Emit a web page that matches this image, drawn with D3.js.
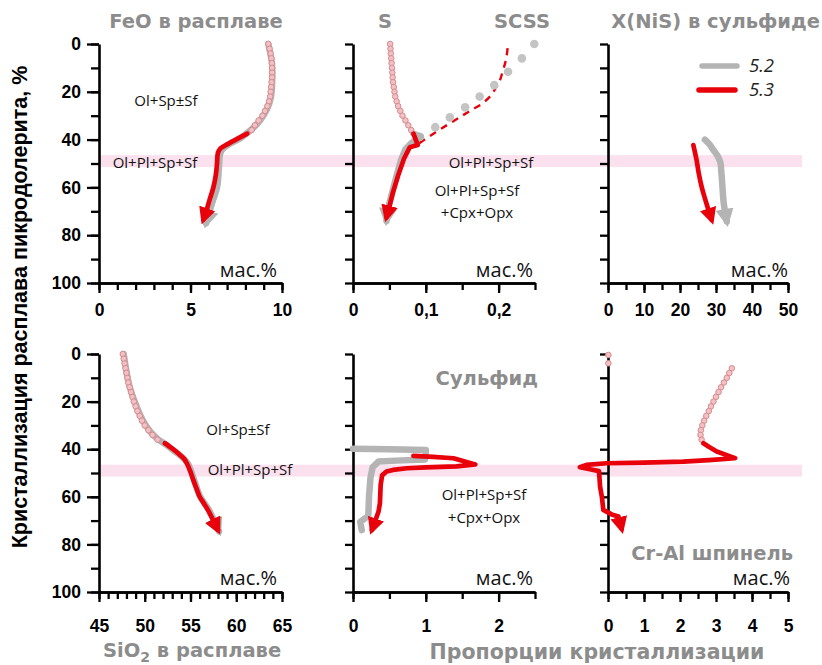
<!DOCTYPE html>
<html><head><meta charset="utf-8">
<script src="https://cdn.jsdelivr.net/npm/d3@7"></script>
<style>body{margin:0;background:#fff}svg{display:block}</style>
</head><body>
<svg id="c" width="822" height="665"></svg>
<script>
// ---------- DATA ----------
const yTickLabels = [0, 20, 40, 60, 80, 100];
const bandRange = [46.5, 51.5];
const legendLabels = ["5.2", "5.3"];

// FeO in melt (top-left)
const feoCircles = [[9.25,0],[9.32,2],[9.38,4],[9.42,6],[9.45,8],[9.46,10],[9.46,12],[9.45,14],[9.43,16],[9.41,18],[9.38,20],[9.35,22],[9.29,24],[9.2,26],[9.07,28],[8.93,30],[8.72,32],[8.52,34],[8.34,36]];
const feoGray = [[9.25,0],[9.45,8],[9.47,14],[9.4,22],[9.2,27],[8.8,32],[8.3,36],[7.7,39.5],[7.1,42],[6.75,44],[6.62,46],[6.55,52],[6.45,60],[6.2,66],[5.85,75]];
const feoRed = [[8.1,37.5],[7.6,39.5],[7.0,42],[6.65,43.6],[6.5,45.5],[6.45,50],[6.38,55],[6.25,60],[6.05,65],[5.9,69],[5.7,73.5]];

// S and SCSS (top-middle)
const sCircles = [[0.051,0],[0.0515,2],[0.052,4],[0.0525,6],[0.053,8],[0.0535,10],[0.054,12],[0.0545,14],[0.055,16],[0.056,18],[0.057,20],[0.058,22],[0.06,24],[0.062,26],[0.065,28],[0.068,30],[0.072,32],[0.076,34],[0.08,36]];
const sGray = [[0.083,37.5],[0.093,38.8],[0.08,41.5],[0.072,44],[0.066,48.5],[0.06,55],[0.054,62],[0.048,69],[0.046,74]];
const sRed = [[0.083,37.5],[0.089,42.3],[0.078,43.2],[0.07,48],[0.062,55],[0.055,62],[0.05,68],[0.046,72.5]];
const scssRed = [[0.091,41.5],[0.113,37],[0.133,33.2],[0.15,30],[0.163,27.6],[0.177,25],[0.188,22],[0.196,18.5],[0.202,15],[0.206,11],[0.209,8],[0.211,5],[0.213,0]];
const scssGray = [[0.092,38.8],[0.113,34.8],[0.133,30.7],[0.154,26.5],[0.174,22],[0.194,17.2],[0.213,11.6],[0.232,6],[0.249,0]];

// X(NiS) in sulfide (top-right)
const nisGray = [[26.9,40],[28.2,42],[29.3,44.4],[30.5,47],[31.2,49.5],[31.5,54],[31.8,60],[32.1,66],[32.5,70],[33,74.3]];
const nisRed = [[23.7,42.3],[24.1,45],[24.6,48.5],[25.2,54],[26,59.7],[26.8,64],[27.6,68],[28.8,73.6]];

// SiO2 in melt (bottom-left)
const sioCircles = [[47.6,0],[47.7,2],[47.8,4],[47.9,6],[48.0,8],[48.1,10],[48.2,12],[48.35,14],[48.5,16],[48.65,18],[48.8,20],[49.0,22],[49.2,24],[49.45,26],[49.7,28],[50.0,30],[50.4,32],[50.85,34],[51.4,36]];
const sioGray = [[47.7,0],[48.3,13],[49.0,21],[49.8,28],[50.6,32.6],[51.5,36],[52.3,38],[53.3,41],[54.0,43],[54.7,46],[55.4,53],[56.0,59.5],[57.0,65.5],[58.1,74.5]];
const sioRed = [[52.2,37.5],[53.1,40],[53.85,42.4],[54.3,44],[54.6,45.9],[55.0,49.5],[55.3,52.9],[55.7,57],[56.0,60],[56.5,63],[56.9,65.5],[57.5,70],[58.0,73.9]];

// Sulfide crystallization proportion (bottom-middle)
const sulfGray = [[0,39.8],[0.5,40],[1.0,40.3],[1.0,42],[0.99,44.3],[0.6,44.8],[0.35,45.2],[0.27,47.5],[0.24,52],[0.22,60],[0.21,68],[0.1,70.5],[0.12,74]];
const sulfRed = [[0.83,42.8],[1.1,43.2],[1.38,43.8],[1.68,46.4],[1.42,47.2],[1.0,47.6],[0.74,48],[0.55,48.7],[0.46,49.4],[0.4,51],[0.38,55],[0.37,62.7],[0.35,66.3],[0.26,73.9]];

// Cr-Al spinel crystallization proportion (bottom-right)
const spCircles = [[0.01,0.4],[0.01,3.9],[3.44,6],[3.37,8],[3.3,10],[3.22,12],[3.14,14],[3.07,16],[3.0,18],[2.93,20],[2.86,22],[2.8,24],[2.73,26],[2.67,28],[2.62,30],[2.58,32],[2.57,34],[2.6,36]];
const spRed = [[2.65,37.5],[2.8,39],[3.02,41],[3.3,42.5],[3.53,43.8],[2.8,44.6],[2.09,45.2],[1.0,45.6],[-0.04,45.9],[-0.6,46.6],[-0.78,47.6],[-0.5,48.4],[-0.25,49.2],[-0.22,55.7],[-0.17,60],[-0.13,65.5],[0.1,67.4],[0.29,68.3],[0.33,70.5],[0.38,73.5]];

// axis ticks
const feoTicks = [0,1,2,3,4,5,6,7,8,9,10], feoLabels = [0,5,10];
const sTicks = [0,0.05,0.1,0.15,0.2,0.25], sLabels = [0,0.1,0.2];
const nisTicks = [0,5,10,15,20,25,30,35,40,45,50], nisLabels = [0,10,20,30,40,50];
const sioTicks = [45,46,47,48,49,50,51,52,53,54,55,56,57,58,59,60,61,62,63,64,65], sioLabels = [45,50,55,60,65];
const sulfTicks = [0,0.5,1,1.5,2,2.5], sulfLabels = [0,1,2];
const spTicks = [0,0.5,1,1.5,2,2.5,3,3.5,4,4.5,5], spLabels = [0,1,2,3,4,5];

// ---------- DRAW ----------
const RED = "#e8000b", GRAY = "#b4b4b4", TGRAY = "#8c8c8c";
const svg = d3.select("#c");
const defs = svg.append("defs");
function marker(id, color, size) {
  defs.append("marker").attr("id", id).attr("viewBox", "0 -5 10 10")
    .attr("refX", 7).attr("refY", 0).attr("markerUnits", "userSpaceOnUse")
    .attr("markerWidth", size).attr("markerHeight", size).attr("orient", "auto")
    .append("path").attr("d", "M0,-5L10,0L0,5Z").attr("fill", color);
}
marker("arR", RED, 17);
marker("arG", GRAY, 18);

const colX = [[99, 282], [353, 535], [608, 788]];
const rowY = [[44, 283], [354, 592]];

function makePanel(col, row, dom, ticks, labels, fmt) {
  const x = d3.scaleLinear().domain(dom).range(colX[col]);
  const y = d3.scaleLinear().domain([0, 100]).range(rowY[row]);
  return {x, y, col, row, ticks, labels, fmt};
}
const fmtComma = d => d === 0 ? "0" : d3.format(".1f")(d).replace(".", ",");
const P = [
  makePanel(0,0,[0,10],feoTicks,feoLabels,d3.format("d")),
  makePanel(1,0,[0,0.25],sTicks,sLabels,fmtComma),
  makePanel(2,0,[0,50],nisTicks,nisLabels,d3.format("d")),
  makePanel(0,1,[45,65],sioTicks,sioLabels,d3.format("d")),
  makePanel(1,1,[0,2.5],sulfTicks,sulfLabels,d3.format("d")),
  makePanel(2,1,[0,5],spTicks,spLabels,d3.format("d")),
];

// pink bands
[0,1].forEach(r => {
  const y = P[r*3].y;
  svg.append("rect").attr("x", 100).attr("width", 702)
    .attr("y", y(bandRange[0])).attr("height", y(bandRange[1]) - y(bandRange[0]))
    .attr("fill", "#fbe1ee");
});

// axes
P.forEach(p => {
  const g = svg.append("g");
  const yb = p.y.range()[1];
  const x0 = p.x.range()[0];
  g.append("g").attr("transform", `translate(0,${yb})`)
    .call(d3.axisBottom(p.x).tickValues(p.ticks).tickSize(7).tickFormat("").tickSizeOuter(0));
  g.append("g").attr("transform", `translate(0,${yb})`)
    .call(d3.axisBottom(p.x).tickValues(p.labels).tickSize(10).tickPadding(p.row === 0 ? 11 : 18).tickFormat(p.fmt).tickSizeOuter(0));
  const yt = d3.range(0, 101, 10);
  g.append("g").attr("transform", `translate(${x0},0)`)
    .call(d3.axisLeft(p.y).tickValues(yt).tickSize(8).tickFormat("").tickSizeOuter(0));
  if (p.col === 0) {
    g.append("g").attr("transform", `translate(${x0},0)`)
      .call(d3.axisLeft(p.y).tickValues(yTickLabels).tickSize(12).tickPadding(6).tickFormat(d3.format("d")).tickSizeOuter(0))
      .select(".domain").remove();
  }
  g.selectAll(".domain").attr("stroke", "#000").attr("stroke-width", 2.6);
  g.selectAll(".tick line").attr("stroke", "#000").attr("stroke-width", 2.3);
  g.selectAll("text").attr("font-family", "Liberation Sans, Arial, sans-serif")
    .attr("font-weight", "bold").attr("font-size", 17.5).attr("fill", "#000");
});

const line = d3.line().curve(d3.curveCatmullRom.alpha(0.5));
const lineL = d3.line();
function path(p, data, color, width, mk, linear, dash) {
  const pts = data.map(d => [p.x(d[0]), p.y(d[1])]);
  const el = svg.append("path").attr("d", (linear ? lineL : line)(pts))
    .attr("fill", "none").attr("stroke", color).attr("stroke-width", width)
    .attr("stroke-linecap", "round").attr("stroke-linejoin", "round");
  if (mk) el.attr("marker-end", `url(#${mk})`);
  if (dash) el.attr("stroke-dasharray", dash).attr("stroke-linecap", "butt");
  return el;
}
function circles(p, data, r, fill, stroke) {
  svg.append("g").selectAll("circle").data(data).join("circle")
    .attr("cx", d => p.x(d[0])).attr("cy", d => p.y(d[1])).attr("r", r)
    .attr("fill", fill).attr("stroke", stroke).attr("stroke-width", 1);
}
const CF = "#f3c1c3", CS = "#d58c90";
const RW = 4.7, GW = 6.5;

// Panel FeO
path(P[0], feoGray, GRAY, GW, "arG");
circles(P[0], feoCircles, 2.8, CF, CS);
path(P[0], feoRed, RED, RW, "arR");

// Panel S
path(P[1], scssRed, RED, 2.4, null, false, "7,6");
circles(P[1], scssGray, 4.3, "#c4c4c4", "none");
path(P[1], sGray, GRAY, GW, "arG", true);
circles(P[1], sCircles, 2.8, CF, CS);
path(P[1], sRed, RED, RW, "arR", true);

// Panel NiS
path(P[2], nisGray, GRAY, GW, "arG");
path(P[2], nisRed, RED, RW, "arR");

// Panel SiO2
path(P[3], sioGray, GRAY, GW, "arG");
circles(P[3], sioCircles, 2.8, CF, CS);
path(P[3], sioRed, RED, RW, "arR");

// Panel sulfide
path(P[4], sulfGray, GRAY, GW, null, true);
path(P[4], sulfRed, RED, RW, "arR", true);

// Panel spinel
circles(P[5], spCircles, 2.8, CF, CS);
path(P[5], spRed, RED, RW, "arR", true);

// ---------- TEXT ----------
function txt(x, y, s, o) {
  o = o || {};
  return svg.append("text").attr("x", x).attr("y", y).text(s)
    .attr("font-family", o.ff || "DejaVu Sans, Verdana, sans-serif")
    .attr("font-weight", o.fw || "bold").attr("font-size", o.fs || 19.5)
    .attr("fill", o.fill || TGRAY).attr("text-anchor", o.anchor || "start")
    .attr("font-style", o.style || "normal");
}
// titles
txt(196, 28, "FeO в расплаве", {anchor: "middle"});
txt(385, 28, "S", {anchor: "middle"});
txt(550, 28, "SCSS", {anchor: "end"});
txt(820, 28, "X(NiS) в сульфиде", {anchor: "end"});
const sio = txt(103, 657, "SiO", {});
sio.append("tspan").attr("font-size", 14).attr("dy", 5).text("2");
sio.append("tspan").attr("dy", -5).text(" в расплаве");
txt(597, 659, "Пропорции кристаллизации", {anchor: "middle", fs: 20.5});
txt(538, 385, "Сульфид", {anchor: "end"});
txt(793, 560, "Cr-Al шпинель", {anchor: "end"});

// мас.%
const mopt = {ff: "Open Sans, sans-serif", fw: "normal", fs: 20, fill: "#111", anchor: "end"};
[[277, 277], [533, 277], [788, 277], [277, 585], [533, 585], [790, 585]].forEach(d => txt(d[0], d[1], "мас.%", mopt));

// annotations
const aopt = {ff: "Open Sans, sans-serif", fw: "normal", fs: 15, fill: "#111", anchor: "middle"};
txt(166, 106, "Ol+Sp±Sf", aopt);
txt(155, 168, "Ol+Pl+Sp+Sf", aopt);
txt(491, 168, "Ol+Pl+Sp+Sf", aopt);
txt(477, 196, "Ol+Pl+Sp+Sf", aopt);
txt(477, 218, "+Cpx+Opx", aopt);
txt(238, 435, "Ol+Sp±Sf", aopt);
txt(250, 475, "Ol+Pl+Sp+Sf", aopt);
txt(484, 500, "Ol+Pl+Sp+Sf", aopt);
txt(484, 523, "+Cpx+Opx", aopt);

// y axis title
svg.append("text").attr("transform", "translate(27,307) rotate(-90)")
  .attr("text-anchor", "middle").attr("font-family", "Liberation Sans, Arial, sans-serif")
  .attr("font-weight", "bold").attr("font-size", 21.5).attr("fill", "#000")
  .text("Кристаллизация расплава пикродолерита, %");

// legend
const lg = svg.append("g");
[[GRAY, 66], [RED, 90]].forEach((d, i) => {
  lg.append("line").attr("x1", 702 - i*3).attr("x2", 737 - i*2).attr("y1", d[1]).attr("y2", d[1])
    .attr("stroke", d[0]).attr("stroke-width", 5.5).attr("stroke-linecap", "round");
  txt(749, d[1] + 6, legendLabels[i], {ff: "Open Sans, sans-serif", fw: "normal", fs: 18.5, fill: "#222", style: "italic"});
});
</script>
</body></html>
